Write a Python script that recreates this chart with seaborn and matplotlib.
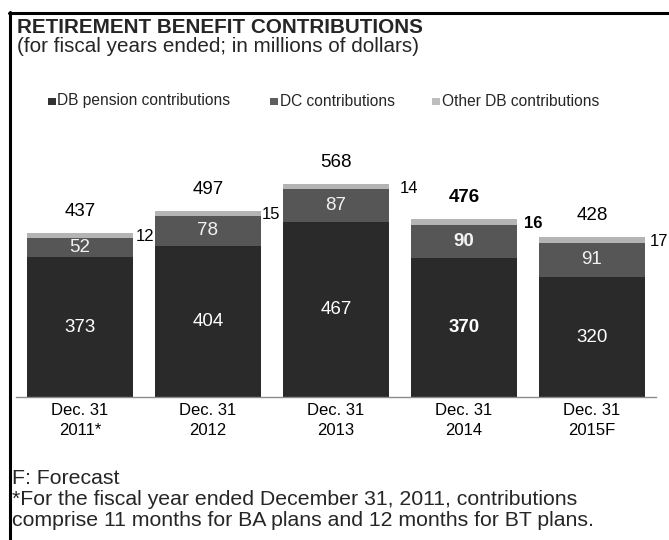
import matplotlib
matplotlib.use("Agg")
import matplotlib.pyplot as plt
from matplotlib.lines import Line2D
from matplotlib.patches import Rectangle
import pandas as pd
import seaborn as sns

# ---- data (millions of dollars) ----
periods = ["Dec. 31\n2011*", "Dec. 31\n2012", "Dec. 31\n2013", "Dec. 31\n2014", "Dec. 31\n2015F"]
db_pension = [373, 404, 467, 370, 320]
dc_contrib = [52, 78, 87, 90, 91]
other_db = [12, 15, 14, 16, 17]
totals = [437, 497, 568, 476, 428]
bold_period = 3  # 2014 figures are set in bold

series_names = ["DB pension contributions", "DC contributions", "Other DB contributions"]
series_colors = ["#2a2a2a", "#565656", "#b4b4b4"]
legend_colors = ["#333333", "#5e5e5e", "#bdbdbd"]

# horizontal gap (px) between each bar and its small "other" label
other_label_gap = [3, 1, 11, 7, 5]

W, H = 669, 540
sns.set_theme(style="white")
plt.rcParams["font.family"] = ["Liberation Sans", "DejaVu Sans"]

fig = plt.figure(figsize=(W / 100, H / 100), dpi=100)
fig.patch.set_facecolor("white")


def fx(px):
    return px / W


def fy(py):
    return 1 - py / H


# plot area: baseline at y=397 px, bars span x=16..656 px
px_per_unit = 0.375
ax_top_px, ax_bot_px = 140, 397
ax = fig.add_axes([fx(16), fy(ax_bot_px), fx(656) - fx(16), (ax_bot_px - ax_top_px) / H])

df = pd.DataFrame({
    "period": periods,
    "db": db_pension,
    "dc": dc_contrib,
    "other": other_db,
})
df["db_dc"] = df["db"] + df["dc"]
df["all"] = df["db_dc"] + df["other"]

# stacked bars: paint cumulative heights from tallest to shortest
for col, color in zip(["all", "db_dc", "db"], series_colors[::-1]):
    sns.barplot(data=df, x="period", y=col, color=color, width=0.83,
                saturation=1, ax=ax, linewidth=0, order=periods)

ax.set_xlim(-0.5, len(periods) - 0.5)
ax.set_ylim(0, (ax_bot_px - ax_top_px) / px_per_unit)
ax.set_xlabel("")
ax.set_ylabel("")
ax.set_yticks([])
for s in ["top", "right", "left"]:
    ax.spines[s].set_visible(False)
ax.spines["bottom"].set_color("#8a8a8a")
ax.spines["bottom"].set_linewidth(1.0)
ax.set_xticks(range(len(periods)))
ax.set_xticklabels(periods, fontsize=12, linespacing=1.45, color="black")
ax.tick_params(axis="x", length=0, pad=4)

half_w = 0.83 / 2
for i in range(len(periods)):
    weight = "bold" if i == bold_period else "normal"
    db, dc, oth, tot = db_pension[i], dc_contrib[i], other_db[i], totals[i]
    ax.text(i, tot + 21.5 / px_per_unit, f"{tot}", ha="center", va="center",
            fontsize=13.5, color="black", fontweight=weight)
    ax.text(i, db / 2, f"{db}", ha="center", va="center",
            fontsize=13.5, color="white", fontweight=weight)
    ax.text(i, db + dc / 2, f"{dc}", ha="center", va="center",
            fontsize=13.5, color="#f2f2f2", fontweight=weight)
    ax.text(i + half_w + other_label_gap[i] / 128, db + dc + oth / 2 - 1.5 / px_per_unit,
            f"{oth}", ha="left", va="center", fontsize=12, color="black",
            fontweight=weight)

# frame lines on the left and top
fig.add_artist(Line2D([fx(10), fx(10)], [fy(12), 0], transform=fig.transFigure,
                      color="black", lw=2.2))
fig.add_artist(Line2D([fx(9), 1], [fy(12.5), fy(12.5)], transform=fig.transFigure,
                      color="black", lw=2.2))

# heading
fig.text(fx(17), fy(33), "RETIREMENT BENEFIT CONTRIBUTIONS", fontsize=14.9,
         fontweight="bold", va="baseline", ha="left")
fig.text(fx(17), fy(52.5), "(for fiscal years ended; in millions of dollars)",
         fontsize=14.9, va="baseline", ha="left")

# legend
legend_x = [48, 270, 432]
for x0, name, c in zip(legend_x, series_names, legend_colors):
    fig.add_artist(Rectangle((fx(x0), fy(105)), fx(7.5), 7.5 / H,
                             transform=fig.transFigure, facecolor=c, edgecolor="none"))
    fig.text(fx(x0 + 9.5), fy(105.5), name, fontsize=11.2, va="baseline", ha="left")

# footnotes
fig.text(fx(12), fy(484), "F: Forecast", fontsize=15.3, va="baseline", ha="left")
fig.text(fx(12), fy(505), "*For the fiscal year ended December 31, 2011, contributions",
         fontsize=15.3, va="baseline", ha="left")
fig.text(fx(12), fy(526), "comprise 11 months for BA plans and 12 months for BT plans.",
         fontsize=15.3, va="baseline", ha="left")

fig.savefig("out.png", dpi=100)
